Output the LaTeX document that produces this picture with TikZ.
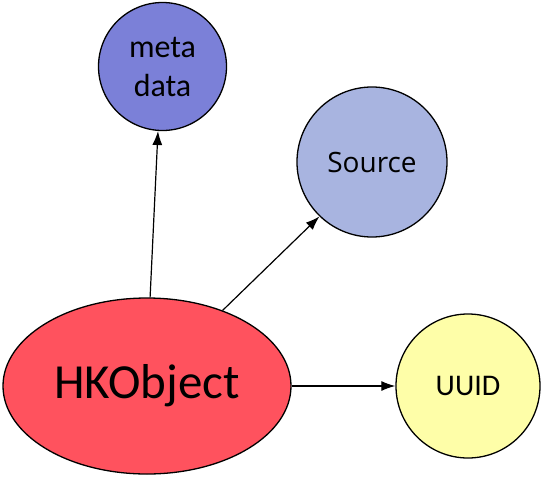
\documentclass[tikz,border=0pt]{standalone}
\usepackage{fontspec}
\setmainfont{Carlito}
\newfontfamily\opensans{Open Sans}
\usetikzlibrary{arrows.meta,shapes.geometric}
\definecolor{metac}{HTML}{7B80D8}
\definecolor{srcc}{HTML}{A8B4E0}
\definecolor{hkc}{HTML}{FF525E}
\definecolor{uuidc}{HTML}{FEFEA8}
\tikzset{
  ball/.style={circle,draw=black,line width=1.3pt,inner sep=0pt,align=center},
  conn/.style={line width=1.2pt,-{Latex[length=14pt,width=10pt]}}
}
\begin{document}
\begin{tikzpicture}[x=1pt,y=-1pt]
\useasboundingbox (0,0) rectangle (544,480);
\node[ball,fill=metac,minimum size=128pt,font=\fontsize{32}{41}\selectfont] (meta) at (162.5,66.5) {meta\\[-2pt]data};
\node[ball,fill=srcc,minimum size=150pt,font=\opensans\fontsize{28}{32}\selectfont] (src) at (372,162) {Source};
\node[ball,fill=uuidc,minimum size=144pt,font=\fontsize{30}{36}\selectfont] (uuid) at (468,386) {UUID};
\node[ellipse,draw=black,line width=1.3pt,fill=hkc,minimum width=288pt,minimum height=176pt,inner sep=0pt,font=\fontsize{49}{52}\selectfont] (hk) at (147,386) {HKObject};
\draw[conn] (hk.88) -- (meta.266);
\draw[conn] (hk.45) -- (src.226);
\draw[conn] (hk.east) -- (uuid.west);
\end{tikzpicture}
\end{document}
